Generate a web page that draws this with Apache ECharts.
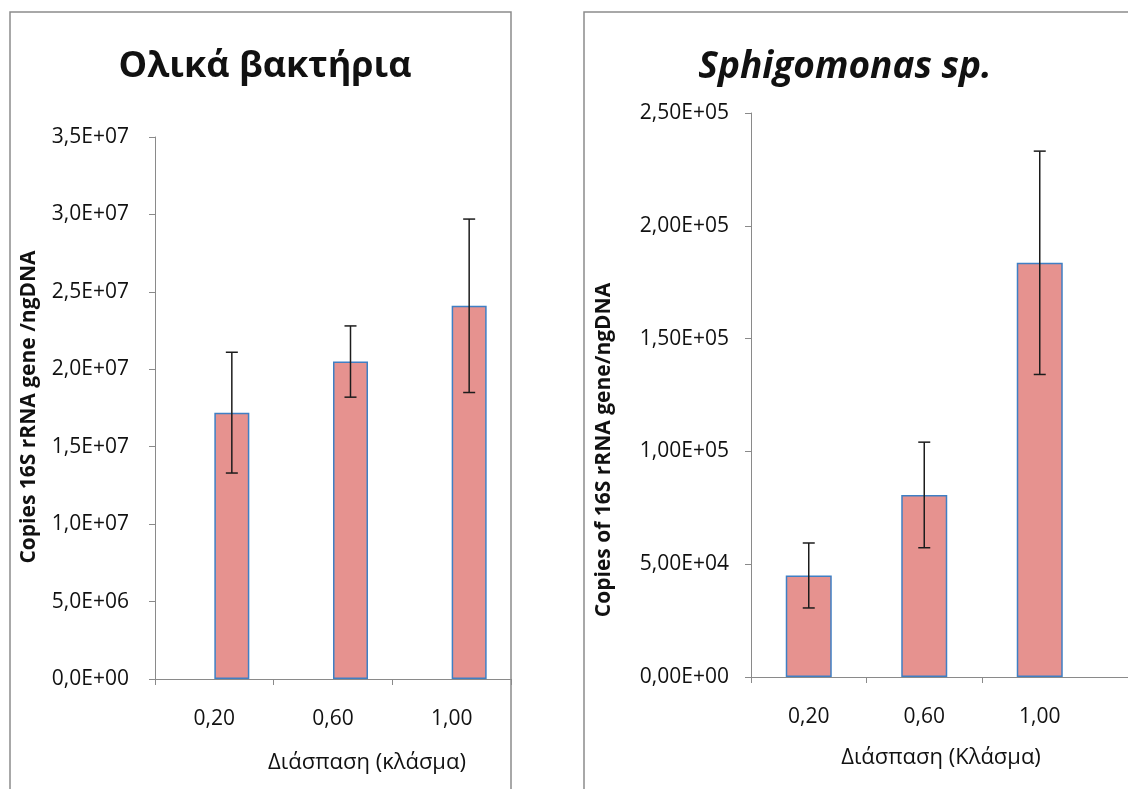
<!DOCTYPE html>
<html><head><meta charset="utf-8">
<script src="https://cdn.jsdelivr.net/npm/echarts@6/dist/echarts.min.js"></script>
<style>html,body{margin:0;padding:0;background:#fff}#c{width:1128px;height:789px}</style>
</head><body><div id="c"></div>
<script>
// ---- data ----
const categories = ['0,20', '0,60', '1,00'];
const totalValues = [1.72e7, 2.05e7, 2.41e7];
const totalErrors = [3.9e6, 2.3e6, 5.6e6];
const sphValues = [45000, 80700, 183600];
const sphErrors = [14400, 23400, 49500];
const totalTickLabels = ['0,0E+00', '5,0E+06', '1,0E+07', '1,5E+07', '2,0E+07', '2,5E+07', '3,0E+07', '3,5E+07'];
const sphTickLabels = ['0,00E+00', '5,00E+04', '1,00E+05', '1,50E+05', '2,00E+05', '2,50E+05'];
const totalInterval = 5e6;
const sphInterval = 5e4;

// ---- styles ----
const FONT = '"Open Sans", sans-serif';
const AXIS_COLOR = '#8a8a8a';
const TEXT_COLOR = '#111111';
const BAR_FILL = '#e6928f';
const BAR_BORDER = '#3f7fc4';
const ERR_COLOR = '#1c1c1c';
const LEFT_BAR_W = 35;
const RIGHT_BAR_W = 46;
const TICK_FS = 21;

function errRender(pxOffset) {
  return function (params, api) {
    const idx = api.value(0);
    const lo = api.value(1), hi = api.value(2);
    const pHi = api.coord([idx, hi]);
    const pLo = api.coord([idx, lo]);
    const cx = pHi[0] + pxOffset;
    const cap = 6;
    const st = { stroke: ERR_COLOR, lineWidth: 1.5 };
    return {
      type: 'group',
      children: [
        { type: 'line', shape: { x1: cx, y1: pHi[1], x2: cx, y2: pLo[1] }, style: st },
        { type: 'line', shape: { x1: cx - cap, y1: pHi[1], x2: cx + cap, y2: pHi[1] }, style: st },
        { type: 'line', shape: { x1: cx - cap, y1: pLo[1], x2: cx + cap, y2: pLo[1] }, style: st }
      ]
    };
  };
}

const totalErrData = totalValues.map((v, i) => [i, v - totalErrors[i], v + totalErrors[i]]);
const sphErrData = sphValues.map((v, i) => [i, v - sphErrors[i], v + sphErrors[i]]);
const rightCats = categories.concat(['']);

const axisCommonY = {
  type: 'value',
  axisLine: { show: true, lineStyle: { color: AXIS_COLOR, width: 1 } },
  axisTick: { show: true, length: 6, lineStyle: { color: AXIS_COLOR } },
  splitLine: { show: false },
};

const chart = echarts.init(document.getElementById('c'), null, { renderer: 'canvas' });
chart.setOption({
  backgroundColor: '#ffffff',
  animation: false,
  title: [
    { text: 'Ολικά βακτήρια', left: 260, top: 62, textAlign: 'center', textVerticalAlign: 'middle',
      textStyle: { fontFamily: FONT, fontWeight: 'bold', fontSize: 36, color: TEXT_COLOR } },
    { text: 'Sphigomonas sp.', left: 840, top: 62, textAlign: 'center', textVerticalAlign: 'middle',
      textStyle: { fontFamily: FONT, fontWeight: 'bold', fontStyle: 'italic', fontSize: 37, color: TEXT_COLOR } }
  ],
  graphic: [
    { type: 'rect', shape: { x: 10, y: 12, width: 501, height: 800 }, style: { fill: 'none', stroke: '#8c8c8c', lineWidth: 1.5 }, silent: true },
    { type: 'rect', shape: { x: 584, y: 12, width: 600, height: 800 }, style: { fill: 'none', stroke: '#8c8c8c', lineWidth: 1.5 }, silent: true },
    { type: 'text', x: 29, y: 407, rotation: Math.PI / 2, silent: true,
      style: { text: 'Copies 16S rRNA gene /ngDNA', textAlign: 'center', textVerticalAlign: 'middle', font: 'bold 21px "Open Sans", sans-serif', fill: TEXT_COLOR } },
    { type: 'text', x: 604, y: 450, rotation: Math.PI / 2, silent: true,
      style: { text: 'Copies of 16S rRNA gene/ngDNA', textAlign: 'center', textVerticalAlign: 'middle', font: 'bold 21px "Open Sans", sans-serif', fill: TEXT_COLOR } },
    { type: 'text', x: 367, y: 763, silent: true,
      style: { text: 'Διάσπαση (κλάσμα)', textAlign: 'center', textVerticalAlign: 'middle', font: '22px "Open Sans", sans-serif', fill: TEXT_COLOR } },
    { type: 'text', x: 941, y: 758, silent: true,
      style: { text: 'Διάσπαση (Κλάσμα)', textAlign: 'center', textVerticalAlign: 'middle', font: '22px "Open Sans", sans-serif', fill: TEXT_COLOR } }
  ],
  grid: [
    { left: 155, top: 137, width: 356, height: 542, outerBoundsMode: 'none', containLabel: false },
    { left: 751, top: 113, width: 462, height: 564, outerBoundsMode: 'none', containLabel: false }
  ],
  xAxis: [
    { type: 'category', gridIndex: 0, data: categories, boundaryGap: true,
      axisLine: { lineStyle: { color: AXIS_COLOR } },
      axisTick: { show: true, length: 6, lineStyle: { color: AXIS_COLOR } },
      axisLabel: { color: TEXT_COLOR, fontFamily: FONT, fontSize: TICK_FS, margin: 30 } },
    { type: 'category', gridIndex: 1, data: rightCats, boundaryGap: true,
      axisLine: { lineStyle: { color: AXIS_COLOR } },
      axisTick: { show: true, length: 6, interval: function (i) { return i < 3; }, lineStyle: { color: AXIS_COLOR } },
      axisLabel: { color: TEXT_COLOR, fontFamily: FONT, fontSize: TICK_FS, margin: 30 } }
  ],
  yAxis: [
    Object.assign({}, axisCommonY, { gridIndex: 0, min: 0, max: 3.5e7, interval: totalInterval,
      axisLabel: { color: TEXT_COLOR, fontFamily: FONT, fontSize: TICK_FS, margin: 26,
        formatter: v => totalTickLabels[Math.round(v / totalInterval)] } }),
    Object.assign({}, axisCommonY, { gridIndex: 1, min: 0, max: 2.5e5, interval: sphInterval,
      axisLabel: { color: TEXT_COLOR, fontFamily: FONT, fontSize: TICK_FS, margin: 22,
        formatter: v => sphTickLabels[Math.round(v / sphInterval)] } })
  ],
  series: [
    { type: 'bar', xAxisIndex: 0, yAxisIndex: 0, data: categories.map(() => '-'), barWidth: LEFT_BAR_W, barGap: '0%' },
    { type: 'bar', xAxisIndex: 0, yAxisIndex: 0, data: totalValues, barWidth: LEFT_BAR_W, barGap: '0%',
      itemStyle: { color: BAR_FILL, borderColor: BAR_BORDER, borderWidth: 1.5 } },
    { type: 'custom', xAxisIndex: 0, yAxisIndex: 0, data: totalErrData, renderItem: errRender(LEFT_BAR_W / 2), z: 5 },
    { type: 'bar', xAxisIndex: 1, yAxisIndex: 1, data: sphValues, barWidth: RIGHT_BAR_W,
      itemStyle: { color: BAR_FILL, borderColor: BAR_BORDER, borderWidth: 1.5 } },
    { type: 'custom', xAxisIndex: 1, yAxisIndex: 1, data: sphErrData, renderItem: errRender(0), z: 5 }
  ]
});
</script>
</body></html>
